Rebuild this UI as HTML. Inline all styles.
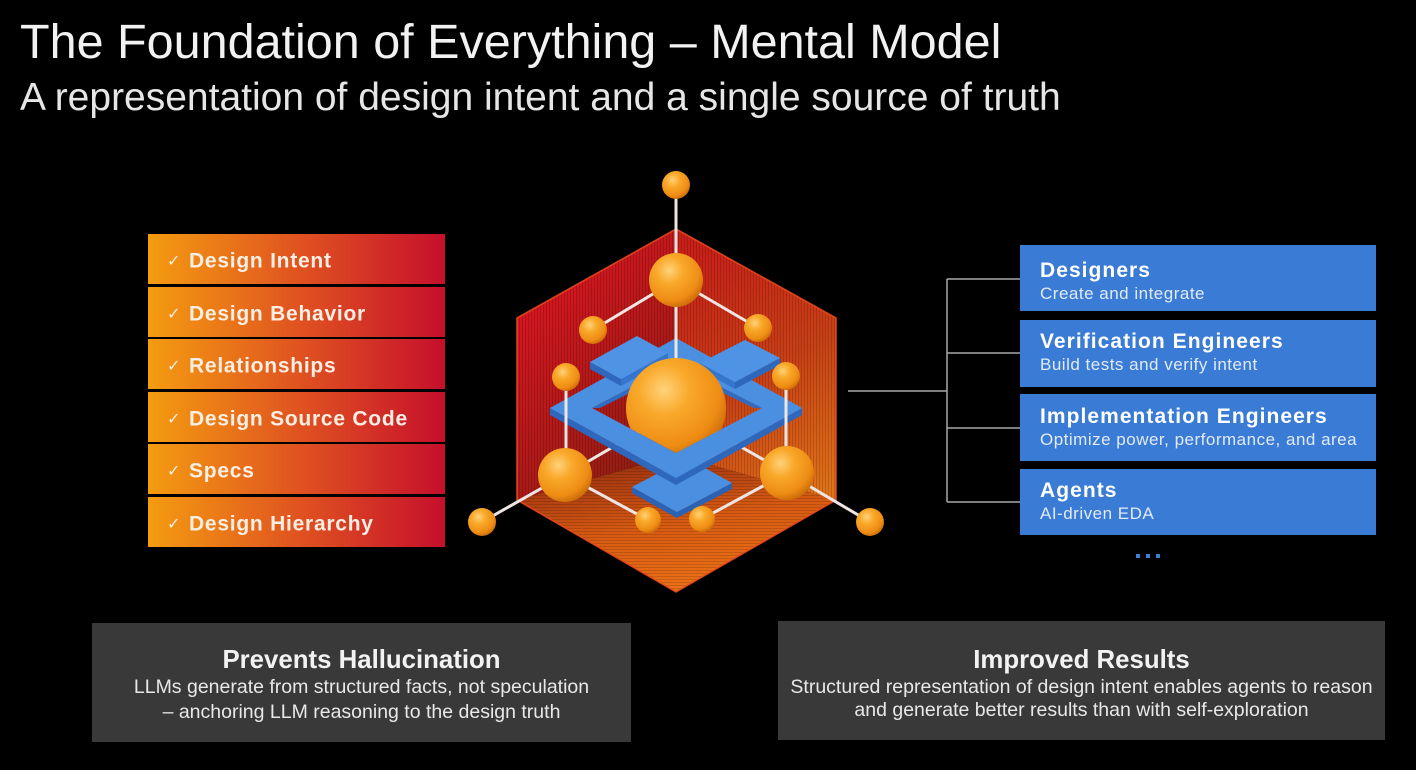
<!DOCTYPE html>
<html><head><meta charset="utf-8"><style>
html,body{margin:0;padding:0;background:#000;}
svg{display:block;}
text{font-family:"Liberation Sans",Arial,sans-serif;}
</style></head><body>
<svg width="1416" height="770" viewBox="0 0 1416 770" xmlns="http://www.w3.org/2000/svg">
<defs>
  <linearGradient id="listg" x1="148" y1="0" x2="445" y2="0" gradientUnits="userSpaceOnUse">
    <stop offset="0" stop-color="#f49c10"/>
    <stop offset="0.5" stop-color="#e05420"/>
    <stop offset="1" stop-color="#c60f2c"/>
  </linearGradient>
  <linearGradient id="lw" x1="517" y1="318" x2="676" y2="470" gradientUnits="userSpaceOnUse">
    <stop offset="0" stop-color="#d6161f"/>
    <stop offset="0.6" stop-color="#a81a16"/>
    <stop offset="1" stop-color="#862012"/>
  </linearGradient>
  <linearGradient id="rw" x1="690" y1="260" x2="836" y2="490" gradientUnits="userSpaceOnUse">
    <stop offset="0" stop-color="#c82018"/>
    <stop offset="0.5" stop-color="#c84016"/>
    <stop offset="1" stop-color="#e07418"/>
  </linearGradient>
  <linearGradient id="fl" x1="676" y1="450" x2="700" y2="592" gradientUnits="userSpaceOnUse">
    <stop offset="0" stop-color="#9a3010"/>
    <stop offset="0.5" stop-color="#d65a12"/>
    <stop offset="1" stop-color="#ee7216"/>
  </linearGradient>
  <pattern id="vs" width="3" height="10" patternUnits="userSpaceOnUse">
    <rect x="0" y="0" width="1" height="10" fill="#000" opacity="0.16"/>
  </pattern>
  <pattern id="hs" width="10" height="3" patternUnits="userSpaceOnUse">
    <rect x="0" y="0" width="10" height="1" fill="#000" opacity="0.14"/>
  </pattern>
  <radialGradient id="sph" cx="0.38" cy="0.32" r="0.72">
    <stop offset="0" stop-color="#ffd27a"/>
    <stop offset="0.35" stop-color="#f9a92a"/>
    <stop offset="0.78" stop-color="#ee8c14"/>
    <stop offset="1" stop-color="#c96a08"/>
  </radialGradient>
  <clipPath id="cclip">
    <polygon points="592,300 762,300 762,408 676,453 592,408"/>
  </clipPath>
</defs>

<rect width="1416" height="770" fill="#000"/>

<!-- Titles -->
<text x="20" y="58" font-size="48.5" fill="#f2f2f2">The Foundation of Everything – Mental Model</text>
<text x="20" y="110" font-size="39" fill="#e6e6e6">A representation of design intent and a single source of truth</text>

<!-- Left list -->
<g>
  <rect x="148" y="234" width="297" height="50" fill="url(#listg)"/>
  <rect x="148" y="287" width="297" height="50" fill="url(#listg)"/>
  <rect x="148" y="339" width="297" height="50" fill="url(#listg)"/>
  <rect x="148" y="392" width="297" height="50" fill="url(#listg)"/>
  <rect x="148" y="444" width="297" height="50" fill="url(#listg)"/>
  <rect x="148" y="497" width="297" height="50" fill="url(#listg)"/>
  <g fill="#fbeee2" font-size="16" style="font-family:'DejaVu Sans',sans-serif">
    <text x="167" y="266">✓</text>
    <text x="167" y="319">✓</text>
    <text x="167" y="371">✓</text>
    <text x="167" y="424">✓</text>
    <text x="167" y="476">✓</text>
    <text x="167" y="529">✓</text>
  </g>
  <g fill="#fbeee2" font-size="21" font-weight="bold" style="letter-spacing:0.75px">
    <text x="189" y="267.5">Design Intent</text>
    <text x="189" y="320.5">Design Behavior</text>
    <text x="189" y="372.5">Relationships</text>
    <text x="189" y="425.5">Design Source Code</text>
    <text x="189" y="477.5">Specs</text>
    <text x="189" y="530.5">Design Hierarchy</text>
  </g>
</g>

<!-- Hexagon -->
<g>
  <polygon points="676,229 517,318 517,500 676,455" fill="url(#lw)"/>
  <polygon points="676,229 517,318 517,500 676,455" fill="url(#vs)"/>
  <polygon points="676,229 836,318 836,500 676,455" fill="url(#rw)"/>
  <polygon points="676,229 836,318 836,500 676,455" fill="url(#vs)"/>
  <polygon points="676,455 517,500 676,592 836,500" fill="url(#fl)"/>
  <polygon points="676,455 517,500 676,592 836,500" fill="url(#hs)"/>
  <polygon points="676,229 836,318 836,500 676,592 517,500 517,318" fill="none" stroke="#f04a1e" stroke-width="1.6" opacity="0.85"/>
</g>

<!-- lines under plate -->
<g stroke="#efe6e4" stroke-width="3" stroke-linecap="round">
  <line x1="565" y1="475" x2="676" y2="410"/>
  <line x1="787" y1="473" x2="676" y2="410"/>
</g>

<!-- Blue plate -->
<g>
  <polygon points="632,487 677,512 732,483 732,489 677,518 632,493" fill="#2a62b5"/>
  <polygon points="632,487 677,512 732,483 687,458" fill="#4a8fe0"/>
  <polygon points="550,408 676,478 802,408 802,415 676,485 550,415" fill="#2d68bd"/>
  <path d="M550,408 L676,338 L802,408 L676,478 Z M592,408 L676,364 L762,408 L676,453 Z" fill="#4a8fe0" fill-rule="evenodd"/>
  <polygon points="592,408 676,364 762,408 754,408 676,370 600,408" fill="#2f6cc2"/>
  <polygon points="590,362 621,379 621,386 590,369" fill="#2d68bd"/>
  <polygon points="621,379 668,353 668,360 621,386" fill="#3576cc"/>
  <polygon points="590,362 637,336 668,353 621,379" fill="#4f94e4"/>
  <polygon points="735,382 780,358 780,365 735,389" fill="#2d68bd"/>
  <polygon points="700,363 735,382 735,389 700,370" fill="#3576cc"/>
  <polygon points="700,363 745,340 780,358 735,382" fill="#4f94e4"/>
</g>

<line x1="676" y1="300" x2="676" y2="370" stroke="#efe6e4" stroke-width="3"/>

<circle cx="676" cy="408" r="50" fill="url(#sph)" clip-path="url(#cclip)"/>

<g stroke="#efe6e4" stroke-width="3" stroke-linecap="round">
  <line x1="676" y1="195" x2="676" y2="258"/>
  <line x1="676" y1="280" x2="593" y2="330"/>
  <line x1="676" y1="280" x2="758" y2="328"/>
  <line x1="566" y1="380" x2="566" y2="470"/>
  <line x1="786" y1="380" x2="786" y2="470"/>
  <line x1="565" y1="475" x2="482" y2="522"/>
  <line x1="787" y1="473" x2="870" y2="522"/>
  <line x1="565" y1="475" x2="648" y2="520"/>
  <line x1="787" y1="473" x2="702" y2="519"/>
</g>

<g fill="url(#sph)">
  <circle cx="676" cy="185" r="14"/>
  <circle cx="676" cy="280" r="27"/>
  <circle cx="593" cy="330" r="14"/>
  <circle cx="758" cy="328" r="14"/>
  <circle cx="566" cy="377" r="14"/>
  <circle cx="786" cy="376" r="14"/>
  <circle cx="565" cy="475" r="27"/>
  <circle cx="787" cy="473" r="27"/>
  <circle cx="482" cy="522" r="14"/>
  <circle cx="870" cy="522" r="14"/>
  <circle cx="648" cy="520" r="13"/>
  <circle cx="702" cy="519" r="13"/>
</g>

<g stroke="#a8a8a8" stroke-width="1.5" fill="none">
  <line x1="848" y1="391" x2="947" y2="391"/>
  <line x1="947" y1="279" x2="947" y2="502"/>
  <line x1="947" y1="279" x2="1020" y2="279"/>
  <line x1="947" y1="353" x2="1020" y2="353"/>
  <line x1="947" y1="428" x2="1020" y2="428"/>
  <line x1="947" y1="502" x2="1020" y2="502"/>
</g>

<g fill="#3a7bd5">
  <rect x="1020" y="245" width="356" height="66"/>
  <rect x="1020" y="320" width="356" height="67"/>
  <rect x="1020" y="394" width="356" height="67"/>
  <rect x="1020" y="469" width="356" height="66"/>
</g>
<g fill="#ffffff" font-size="21" font-weight="bold" style="letter-spacing:1.05px">
  <text x="1040" y="277">Designers</text>
  <text x="1040" y="348">Verification Engineers</text>
  <text x="1040" y="423">Implementation Engineers</text>
  <text x="1040" y="497">Agents</text>
</g>
<g fill="#e2eaf7" font-size="17" style="letter-spacing:0.5px">
  <text x="1040" y="299">Create and integrate</text>
  <text x="1040" y="370">Build tests and verify intent</text>
  <text x="1040" y="445">Optimize power, performance, and area</text>
  <text x="1040" y="519">AI-driven EDA</text>
</g>
<g fill="#3f7fd8">
  <rect x="1136" y="554" width="4" height="4"/>
  <rect x="1146" y="554" width="4" height="4"/>
  <rect x="1156" y="554" width="4" height="4"/>
</g>

<rect x="92" y="623" width="539" height="119" fill="#393939"/>
<text x="361.5" y="668" font-size="25.8" font-weight="bold" fill="#f2f2f2" text-anchor="middle">Prevents Hallucination</text>
<text x="361.5" y="693" font-size="19.5" fill="#e8e8e8" text-anchor="middle">LLMs generate from structured facts, not speculation</text>
<text x="361.5" y="718" font-size="19.5" fill="#e8e8e8" text-anchor="middle">– anchoring LLM reasoning to the design truth</text>

<rect x="778" y="621" width="607" height="119" fill="#393939"/>
<text x="1081.5" y="668" font-size="25.8" font-weight="bold" fill="#f2f2f2" text-anchor="middle">Improved Results</text>
<text x="1081.5" y="693" font-size="19.5" fill="#e8e8e8" text-anchor="middle">Structured representation of design intent enables agents to reason</text>
<text x="1081.5" y="716" font-size="19.5" fill="#e8e8e8" text-anchor="middle">and generate better results than with self-exploration</text>
</svg>
</body></html>
